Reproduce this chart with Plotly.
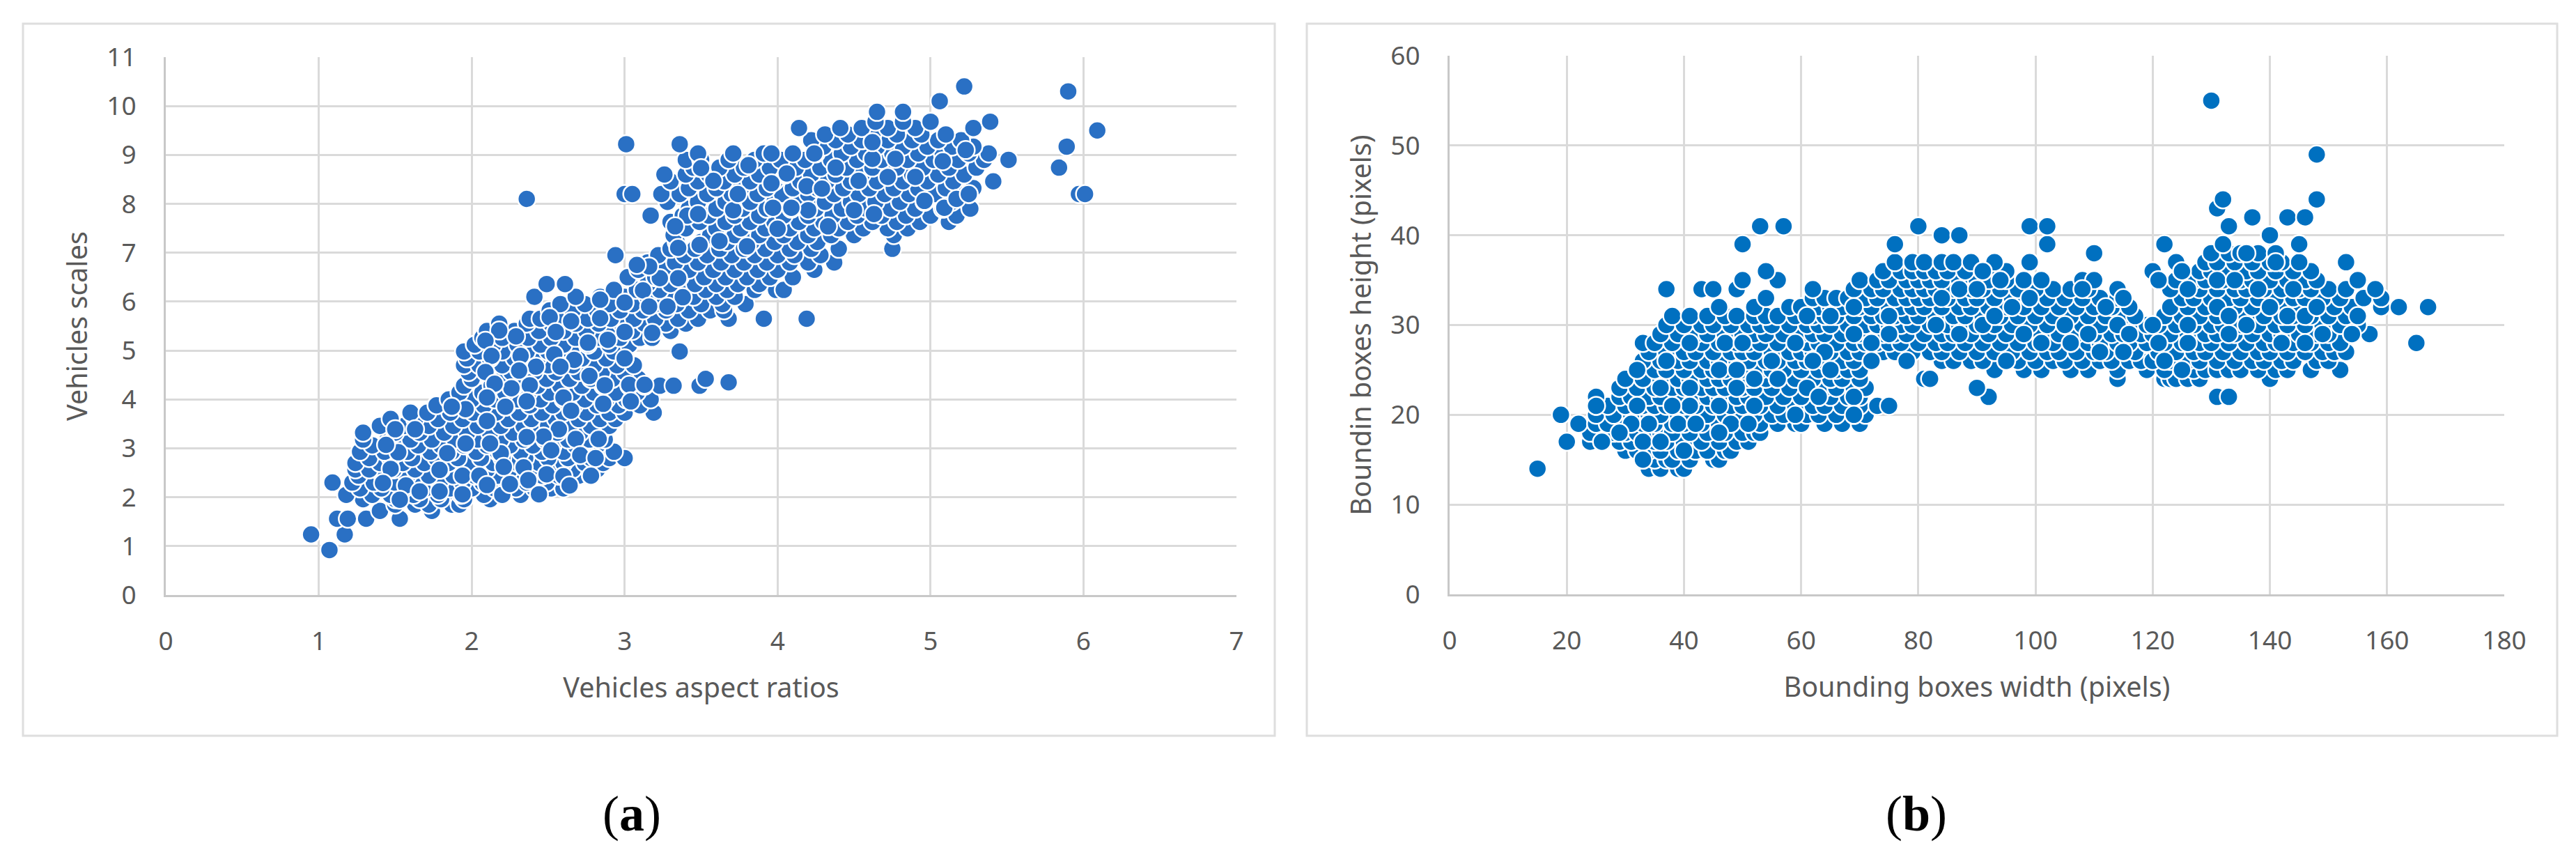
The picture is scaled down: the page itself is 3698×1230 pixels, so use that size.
import plotly.graph_objects as go

W, H = 3698, 1230

# ---------- chart (a): vehicle aspect ratio vs scale, (y, [x...]) rows
a_rows = [
 (0.92,[1.07]),(1.24,[0.95,1.17]),
 (1.56,[1.12,1.19,1.31,1.53]),(1.72,[1.40,1.74]),(1.85,[1.50,1.63,1.72,1.87,1.92]),
 (1.96,[1.29,1.50,1.66,1.80,1.95,2.12]),
 (2.05,[1.18,1.35,1.47,1.62,1.78,1.93,2.08,2.21,2.32,2.44]),
 (2.18,[1.27,1.41,1.56,1.70,1.86,2.00,2.15,2.29,2.41,2.52,2.60]),
 (2.30,[1.09,1.22,1.36,1.50,1.64,1.79,1.94,2.07,2.23,2.36,2.49,2.64]),
 (2.44,[1.26,1.42,1.58,1.72,1.88,2.02,2.17,2.31,2.46,2.57,2.70,2.78]),
 (2.57,[1.24,1.33,1.49,1.63,1.80,1.96,2.10,2.25,2.38,2.53,2.66,2.82]),
 (2.70,[1.24,1.40,1.55,1.69,1.85,2.00,2.14,2.30,2.44,2.60,2.74,2.86]),
 (2.80,[1.33,1.47,1.61,1.77,1.91,2.06,2.20,2.35,2.50,2.63,2.78,2.90,3.00]),
 (2.93,[1.27,1.43,1.58,1.73,1.87,2.03,2.17,2.32,2.46,2.60,2.72,2.93]),
 (3.06,[1.35,1.51,1.65,1.80,1.95,2.10,2.25,2.40,2.53,2.68,2.82]),
 (3.18,[1.29,1.45,1.60,1.74,1.89,2.04,2.19,2.34,2.48,2.63,2.77,2.87]),
 (3.32,[1.29,1.50,1.66,1.82,1.97,2.12,2.27,2.42,2.56,2.71,2.84]),
 (3.46,[1.40,1.56,1.72,1.88,2.04,2.19,2.34,2.50,2.64,2.78,2.90]),
 (3.60,[1.47,1.63,1.78,1.94,2.09,2.24,2.39,2.55,2.70,2.84,2.94]),
 (3.73,[1.60,1.71,1.86,2.01,2.16,2.31,2.46,2.60,2.75,2.90,3.00,3.19]),
 (3.88,[1.77,1.93,2.08,2.23,2.38,2.53,2.67,2.82,2.96,3.10]),
 (4.00,[1.85,2.00,2.15,2.30,2.45,2.60,2.74,2.88,3.01,3.17]),
 (4.14,[1.92,2.07,2.22,2.37,2.51,2.66,2.80,2.94,3.08]),
 (4.28,[1.95,2.13,2.28,2.43,2.58,2.72,2.86,3.03,3.13,3.23,3.32,3.49]),
 (4.35,[3.68]),
 (4.42,[2.00,2.18,2.34,2.49,2.64,2.78,2.92,3.09,3.53]),
 (4.56,[1.98,2.10,2.26,2.41,2.55,2.70,2.85,3.00]),
 (4.70,[1.95,2.05,2.20,2.35,2.50,2.66,2.80,2.95,3.06]),
 (4.84,[1.97,2.12,2.28,2.43,2.58,2.72,2.88,3.00]),
 (4.98,[1.95,2.05,2.20,2.36,2.50,2.65,2.80,2.93,3.36]),
 (5.12,[2.02,2.14,2.30,2.45,2.60,2.76,2.90,3.03]),
 (5.26,[2.07,2.20,2.37,2.52,2.68,2.84,2.97,3.10,3.18]),
 (5.40,[2.10,2.28,2.44,2.60,2.75,2.91,3.05,3.20,3.30]),
 (5.55,[2.18,2.36,2.52,2.68,2.83,2.98,3.13,3.27,3.40]),
 (5.65,[2.38,2.45,2.60,2.76,2.91,3.06,3.20,3.35,3.48,3.68,3.91,4.19]),
 (5.82,[2.51,2.66,2.82,2.97,3.12,3.27,3.42,3.56,3.65]),
 (5.95,[2.58,2.74,2.90,3.05,3.20,3.34,3.50,3.64,3.79]),
 (6.10,[2.41,2.68,2.84,3.00,3.15,3.30,3.45,3.60,3.72]),
 (6.24,[2.93,3.08,3.23,3.38,3.53,3.67,3.85,3.99,4.04]),
 (6.36,[2.49,2.61,3.15,3.30,3.46,3.60,3.74,3.88]),
 (6.50,[3.02,3.20,3.36,3.52,3.66,3.80,3.95,4.10]),
 (6.65,[3.09,3.27,3.42,3.58,3.72,3.87,4.00,4.24]),
 (6.80,[3.15,3.33,3.48,3.63,3.78,3.93,4.08,4.20,4.37]),
 (6.95,[2.94,3.22,3.39,3.54,3.70,3.85,4.00,4.11,4.28]),
 (7.08,[3.30,3.46,3.62,3.78,3.92,4.08,4.22,4.40,4.75]),
 (7.22,[3.34,3.50,3.67,3.83,3.98,4.13,4.26]),
 (7.36,[3.32,3.56,3.72,3.88,4.04,4.20,4.35,4.50,4.76]),
 (7.50,[3.40,3.60,3.76,3.92,4.08,4.24,4.40,4.56,4.72,4.85]),
 (7.63,[3.30,3.49,3.66,3.82,3.98,4.14,4.30,4.46,4.62,4.78,4.93,5.12]),
 (7.76,[3.17,3.38,3.55,3.72,3.88,4.04,4.20,4.36,4.52,4.68,4.84,5.00,5.17]),
 (7.90,[3.42,3.60,3.77,3.93,4.09,4.25,4.42,4.58,4.74,4.90,5.08,5.26]),
 (8.04,[3.28,3.48,3.66,3.82,3.98,4.15,4.31,4.48,4.64,4.80,4.96,5.14]),
 (8.10,[2.36]),
 (8.20,[3.00,3.05,3.24,3.36,3.54,3.70,3.87,4.03,4.20,4.37,4.53,4.70,4.86,5.03,5.18,5.25,5.97,6.01]),
 (8.32,[3.42,3.60,3.76,3.93,4.10,4.26,4.43,4.60,4.76,4.92,5.10,5.28]),
 (8.46,[3.30,3.48,3.65,3.82,3.98,4.15,4.32,4.48,4.65,4.82,4.98,5.15,5.41]),
 (8.60,[3.26,3.40,3.55,3.72,3.88,4.05,4.22,4.38,4.55,4.72,4.88,5.05,5.22]),
 (8.74,[3.45,3.62,3.78,3.95,4.12,4.28,4.45,4.62,4.78,4.95,5.12,5.30,5.84]),
 (8.90,[3.40,3.50,3.68,3.85,4.02,4.18,4.35,4.52,4.68,4.85,5.02,5.18,5.35,5.51]),
 (9.03,[3.48,3.71,3.91,3.96,4.10,4.25,4.42,4.58,4.75,4.92,5.08,5.25,5.38]),
 (9.17,[4.30,4.48,4.65,4.82,4.98,5.14,5.28,5.89]),
 (9.22,[3.01,3.36]),
 (9.30,[4.22,4.38,4.55,4.72,4.88,5.05,5.20]),
 (9.42,[4.31,4.46,4.62,4.78,4.94,5.10]),
 (9.50,[6.09]),
 (9.55,[4.14,4.41,4.55,4.72,4.90,5.28]),
 (9.68,[4.64,4.82,5.00,5.39]),
 (9.88,[4.65,4.82]),
 (10.10,[5.06]),(10.30,[5.90]),(10.40,[5.22]),
]

# chart (a): fully visible discs that lie on top of the cloud
a_top_x = [2.84,3.00,3.12,3.23,3.35,3.38,3.16,3.28,2.84,2.65,2.51,2.55,3.00,3.18,2.76,2.89,3.00,2.29,2.18,2.09,2.13,2.32,2.54,2.67,2.42,2.58,2.31,2.77,2.09,2.26,2.38,2.15,2.87,3.03,3.13,2.60,2.10,2.36,2.86,3.04,2.22,1.96,1.87,2.65,3.35,3.16,3.08,3.41,3.33,
           2.57,2.47,2.36,2.68,2.83,2.52,2.19,1.84,1.52,1.44,2.71,2.81,2.34,2.21,1.79,1.47,1.94,2.05,2.49,2.60,2.78,2.37,1.42,1.57,2.10,1.79,1.94,2.20,2.25,1.53,1.66,2.44,2.64,2.10,1.63,1.50,1.96,2.12,
           4.06,3.58,3.50,3.81,3.96,4.19,4.29,4.38,4.53,4.24,4.62,4.77,4.72,4.90,5.08,5.23,4.62,4.96,4.63,4.50,4.20,4.09,3.97,3.71,3.48,3.74,4.00,4.33,3.62,3.49,3.80,5.09,5.17,5.25]
a_top_y = [6.04,5.98,6.23,6.48,6.48,6.09,5.90,5.90,5.66,5.60,5.68,5.38,5.38,5.36,5.16,5.22,4.84,5.29,5.41,5.20,4.89,4.89,4.92,4.81,4.67,4.67,4.59,4.48,4.56,4.23,4.29,4.32,4.29,4.30,4.30,4.04,4.04,3.96,3.91,3.96,3.85,3.80,3.85,3.77,7.10,6.72,6.75,7.76,7.54,
           3.39,3.24,3.23,3.19,3.19,2.96,2.90,2.90,2.92,3.07,2.86,2.80,2.61,2.62,2.56,2.58,2.44,2.44,2.47,2.43,2.44,2.35,2.29,2.24,2.25,2.12,2.06,2.05,2.27,1.95,2.12,2.06,2.24,3.56,3.39,3.39,3.10,3.10,
           8.62,8.47,8.73,8.79,8.42,8.36,8.31,8.74,8.47,9.03,8.92,8.92,8.55,8.55,8.87,9.10,9.26,8.06,7.79,7.87,7.87,7.92,7.92,7.87,7.79,8.20,7.49,7.54,7.24,7.16,7.13,7.92,8.10,8.20]

# ---------- chart (b): bounding-box height -> widths seen at that height
b_rows = [
 (14,[15,34,36,39,40]),
 (15,[33,35,37,38,41,45,46]),
 (16,[30,32,34,36,39,42,44,47,48]),
 (17,[20,24,26,29,31,33,35,37,40,43,46,49,51]),
 (18,[24,28,30,32,34,36,38,41,44,47,50,52,53]),
 (19,[22,25,27,30,33,35,38,40,43,46,48,51,53,56,59,60,64,67,70]),
 (20,[19,25,28,31,34,36,39,41,44,47,50,52,55,57,61,63,66,69,71]),
 (21,[25,27,30,33,35,37,40,42,45,48,50,53,56,59,62,64,67,70,73,75]),
 (22,[25,29,31,34,36,39,42,44,46,49,51,54,57,60,63,65,68,70,92,131,133]),
 (23,[29,32,35,38,40,43,45,47,50,52,55,58,61,64,66,69,71,90]),
 (24,[30,33,36,39,41,44,46,48,51,54,56,59,62,65,67,70,81,82,114,122,123,124,126,128,140]),
 (25,[32,35,37,40,43,45,47,50,53,55,57,60,63,66,68,70,93,98,101,106,109,114,119,122,125,127,129,131,133,135,138,141,143,147,152]),
 (26,[33,36,39,41,44,46,49,51,54,56,59,61,64,67,69,72,78,84,86,89,91,95,97,100,103,105,108,111,113,116,118,120,123,126,128,131,134,137,139,142,144,148,150]),
 (27,[34,37,40,42,45,48,50,52,55,58,60,62,65,68,70,74,76,79,82,84,87,90,93,96,99,102,104,107,110,112,115,117,121,124,127,129,132,135,138,140,143,146,149,151,153]),
 (28,[33,35,38,41,43,46,49,51,53,56,59,61,63,66,69,71,73,75,77,80,83,85,88,91,94,97,100,103,106,109,111,114,116,119,122,125,128,130,133,136,139,141,144,147,150,152,165]),
 (29,[36,39,42,44,47,50,52,54,57,60,62,64,67,70,72,74,76,78,81,84,86,89,92,95,98,101,104,107,110,113,115,118,120,123,126,129,131,134,137,140,142,145,148,150,154,157]),
 (30,[37,40,43,45,48,51,53,55,58,61,63,65,68,71,73,75,77,79,82,85,87,90,93,96,99,102,105,108,111,114,116,119,121,124,127,130,132,135,138,141,143,146,149,152,155]),
 (31,[38,41,44,47,49,52,54,56,59,62,64,66,69,72,74,76,78,80,83,86,88,91,94,97,100,103,106,109,112,115,117,122,125,128,131,133,136,139,142,144,147,150,153]),
 (32,[46,52,58,60,63,65,67,70,72,75,77,79,81,84,87,89,92,95,98,101,104,107,110,113,116,123,126,129,132,134,137,140,143,145,148,151,154,159,162,167]),
 (33,[54,62,64,66,68,71,73,76,78,80,82,85,88,90,93,96,99,102,105,108,111,114,125,127,130,133,135,138,141,144,146,149,152,156,159]),
 (34,[37,43,45,49,62,69,72,74,77,79,81,83,86,89,91,94,97,100,103,106,109,114,123,126,128,131,134,136,139,142,145,147,150,153,158]),
 (35,[50,56,70,73,75,78,80,82,84,87,90,92,95,98,101,108,110,121,124,127,129,132,135,137,140,143,146,148,155]),
 (36,[54,74,77,79,81,83,85,88,91,94,95,120,125,128,130,133,136,138,141,144,147]),
 (37,[76,79,81,84,86,89,93,99,124,129,131,134,137,140,142,145,153]),
 (38,[110,130,133,135,138,141]),
 (39,[50,76,102,122,132,145]),
 (40,[84,87,140]),
 (41,[53,57,80,99,102,133]),
 (42,[137,143,146]),
 (43,[131]),
 (44,[132,148]),
 (49,[148]),
 (55,[130]),
]

# chart (b): fully visible discs that lie on top of the cloud
b_top_x = [75,75,69,69,72,61,65,59,64,55,62,65,72,78,47,50,41,37,32,46,49,52,56,36,41,49,61,69,63,46,52,32,25,41,38,34,39,42,48,51,31,69,59,33,36,26,40,33,46,29,
           84,83,87,87,90,91,94,96,99,91,93,98,101,105,109,106,108,112,115,114,116,111,115,120,121,126,126,122,125,125,121,126,131,134,131,133,136,133,138,140,143,146,144,148,155,149,154,142,146,95,136,141,145,133]
b_top_y = [31,29,29,32,28,31,31,28,27,26,26,25,26,26,28,28,28,26,25,25,25,24,24,23,23,23,23,22,22,21,21,21,21,21,21,19,19,19,19,19,19,20,20,17,17,17,16,15,18,18,
           33,30,29,34,34,36,35,32,33,30,31,29,28,30,29,28,34,32,33,30,29,27,27,30,28,28,30,26,25,36,35,34,35,35,32,31,30,29,34,32,31,31,34,32,31,29,29,28,28,26,38,37,39,41]

a_x_ticks = [0, 1, 2, 3, 4, 5, 6, 7]
a_y_ticks = [0, 1, 2, 3, 4, 5, 6, 7, 8, 9, 10, 11]
b_x_ticks = [0, 20, 40, 60, 80, 100, 120, 140, 160, 180]
b_y_ticks = [0, 10, 20, 30, 40, 50, 60]

a_x = [x for y, xs in a_rows for x in xs] + a_top_x
a_y = [y for y, xs in a_rows for x in xs] + a_top_y
b_x = [x for y, xs in b_rows for x in xs] + b_top_x
b_y = [y for y, xs in b_rows for x in xs] + b_top_y

GRID = "#DADADA"
TXT = "#595959"
FONT = "Noto Sans"
TICK = 37
TITLE = 39.5


def px_x(p):
    return p / W


def px_y(p):
    return 1 - p / H


def marker(color):
    return dict(size=26, color=color, line=dict(color="white", width=2.5))


fig = go.Figure()
fig.add_trace(go.Scatter(x=a_x, y=a_y, mode="markers", marker=marker("#2A70C4"),
                         xaxis="x", yaxis="y", showlegend=False, cliponaxis=False))
fig.add_trace(go.Scatter(x=b_x, y=b_y, mode="markers", marker=marker("#0070C0"),
                         xaxis="x2", yaxis="y2", showlegend=False, cliponaxis=False))


def axis(rng, ticks, title, domain, anchor, standoff, labeloff):
    return dict(range=rng, tickmode="array", tickvals=ticks, ticktext=[str(t) for t in ticks],
                domain=domain, anchor=anchor, showgrid=True, gridcolor=GRID, gridwidth=3,
                zeroline=False, showline=True, linecolor="#C8C8C8", linewidth=3, mirror=False,
                ticks="", tickfont=dict(family=FONT, size=TICK, color=TXT), ticklabelstandoff=labeloff,
                title=dict(text=title, font=dict(family=FONT, size=TITLE, color=TXT), standoff=standoff),
                automargin=False)


def box(x0, y0, x1, y1):
    return dict(type="rect", xref="paper", yref="paper", x0=px_x(x0), x1=px_x(x1),
                y0=px_y(y1), y1=px_y(y0), line=dict(color="#DEDEDE", width=3),
                fillcolor="rgba(0,0,0,0)", layer="below")


def label(text, xp):
    return dict(text=text, xref="paper", yref="paper", x=px_x(xp), y=px_y(1168), showarrow=False,
                xanchor="center", yanchor="middle",
                font=dict(family="Liberation Serif", size=72, color="black"))


fig.update_layout(
    width=W, height=H, autosize=False,
    margin=dict(l=0, r=0, t=0, b=0),
    paper_bgcolor="white", plot_bgcolor="white",
    xaxis=axis([0, 7], a_x_ticks, "Vehicles aspect ratios", [px_x(238), px_x(1775)], "y", 30, 32),
    yaxis=axis([0, 11], a_y_ticks, "Vehicles scales", [px_y(854), px_y(82)], "x", 16, 32),
    xaxis2=axis([0, 180], b_x_ticks, "Bounding boxes width (pixels)", [px_x(2081), px_x(3595)], "y2", 30, 32),
    yaxis2=axis([0, 60], b_y_ticks, "Boundin boxes height (pixels)", [px_y(853), px_y(80)], "x2", 16, 32),
    shapes=[box(33, 34, 1830, 1056), box(1876, 34, 3671, 1056)],
    annotations=[label("(<b>a</b>)", 907), label("(<b>b</b>)", 2751)],
)

fig.write_html("out.html", post_script="document.body.style.margin='0';",
               config=dict(displayModeBar=False))
